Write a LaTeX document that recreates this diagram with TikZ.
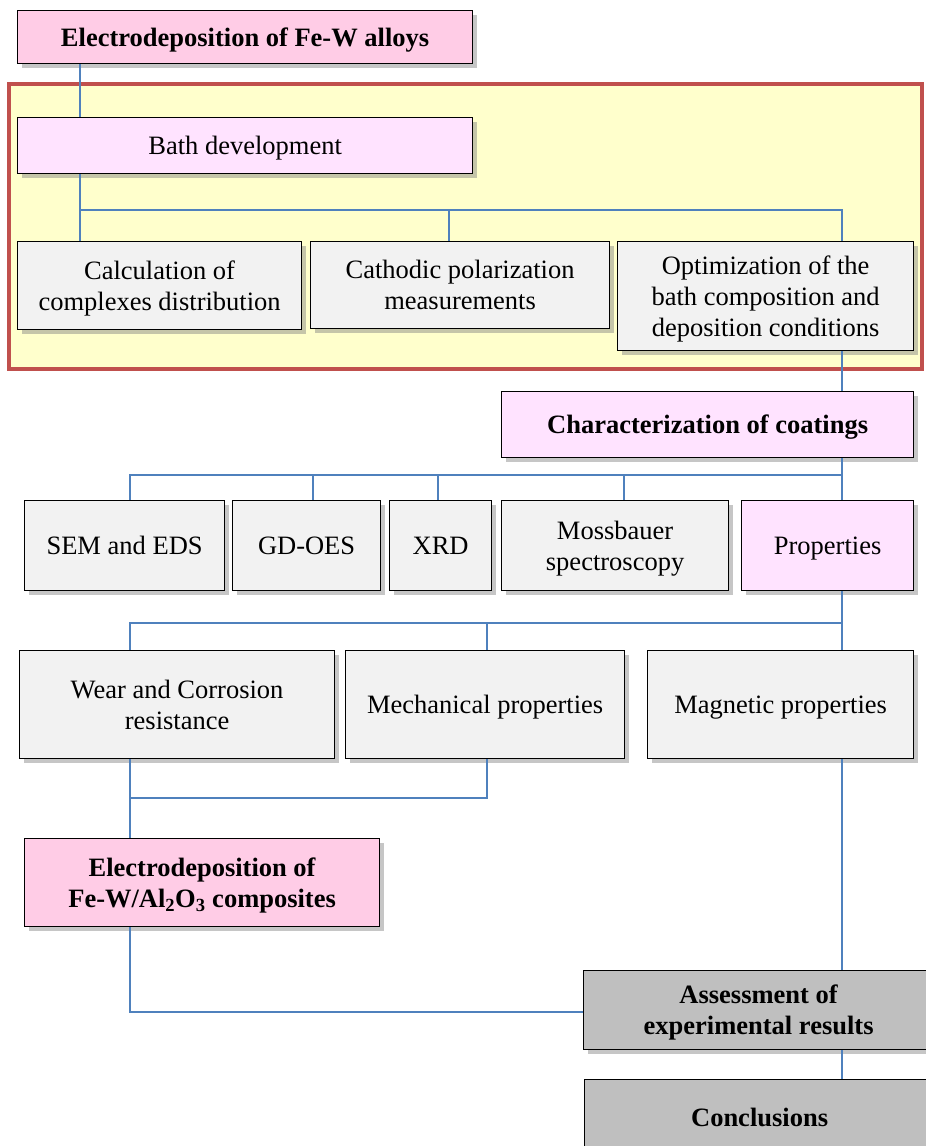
\documentclass[tikz,border=0pt]{standalone}
\usepackage{fontspec}
\setmainfont{Liberation Serif}
\usetikzlibrary{shadows}
\definecolor{pinkfill}{HTML}{FFCCE6}
\definecolor{lilacfill}{HTML}{FFE3FF}
\definecolor{greyfill}{HTML}{F2F2F2}
\definecolor{darkfill}{HTML}{BFBFBF}
\definecolor{framefill}{HTML}{FFFFCC}
\definecolor{framered}{HTML}{C0504D}
\definecolor{linkblue}{HTML}{4F81BD}
\tikzset{
  box/.style={draw=black,line width=1.2pt,align=center,anchor=north west,inner sep=2pt,
    text depth=0pt,font=\fontsize{26.5}{31}\selectfont,
    drop shadow={shadow xshift=4pt,shadow yshift=-4pt,opacity=0.45}},
  pinkbox/.style={box,fill=pinkfill,font=\fontsize{26.5}{31}\selectfont\bfseries},
  lilacbox/.style={box,fill=lilacfill},
  greybox/.style={box,fill=greyfill},
  darkbox/.style={box,fill=darkfill,font=\fontsize{26.5}{31}\selectfont\bfseries},
  conn/.style={draw=linkblue,line width=2pt}
}
\begin{document}
\begin{tikzpicture}[x=1pt,y=-1pt]
  \useasboundingbox (0,0) rectangle (926,1146);
  % yellow frame round the bath stage
  \draw[fill=framefill,draw=framered,line width=4.5pt] (9,84) rectangle (922,369);
  % junction points of the connectors
  \coordinate (j1) at (80,210); \coordinate (j2) at (449,210); \coordinate (j3) at (842,210);
  \coordinate (k1) at (130,475); \coordinate (k2) at (313,475); \coordinate (k3) at (438,475);
  \coordinate (k4) at (624,475); \coordinate (k5) at (842,475);
  \coordinate (m1) at (130,623); \coordinate (m2) at (487,623); \coordinate (m3) at (842,623);
  \coordinate (n1) at (487,798);

  \node[pinkbox,minimum width=455,minimum height=53] (title) at (17,10) {Electrodeposition of Fe-W alloys};
  \node[lilacbox,minimum width=455,minimum height=56] (bath) at (17,117) {Bath development};
  \node[greybox,minimum width=284,minimum height=88] (calc) at (17,241) {Calculation of\\complexes distribution};
  \node[greybox,minimum width=299,minimum height=87] (cath) at (310,241) {Cathodic polarization\\measurements};
  \node[greybox,minimum width=296,minimum height=109] (optim) at (617,241) {Optimization of the\\bath composition and\\deposition conditions};
  \node[lilacbox,minimum width=412,minimum height=66,font=\fontsize{26.5}{31}\selectfont\bfseries] (charac) at (501,391) {Characterization of coatings};
  \node[greybox,minimum width=200,minimum height=90] (sem) at (24,500) {SEM and EDS};
  \node[greybox,minimum width=148,minimum height=90] (gdoes) at (232,500) {GD-OES};
  \node[greybox,minimum width=102,minimum height=90] (xrd) at (389,500) {XRD};
  \node[greybox,minimum width=227,minimum height=90] (moss) at (501,500) {Mossbauer\\spectroscopy};
  \node[lilacbox,minimum width=172,minimum height=90] (props) at (741,500) {Properties};
  \node[greybox,minimum width=315,minimum height=108] (wear) at (19,650) {Wear and Corrosion\\resistance};
  \node[greybox,minimum width=279,minimum height=108] (mech) at (345,650) {Mechanical properties};
  \node[greybox,minimum width=266,minimum height=108] (magn) at (647,650) {Magnetic properties};
  \node[pinkbox,minimum width=355,minimum height=88] (compo) at (24,838) {Electrodeposition of\\Fe-W/Al\textsubscript{2}O\textsubscript{3} composites};
  \node[darkbox,minimum width=350,minimum height=79] (assess) at (583,970) {Assessment of\\experimental results};
  \node[darkbox,minimum width=350,minimum height=76] (concl) at (584,1079) {Conclusions};

  % connectors
  \draw[conn] (title.south -| j1) -- (bath.north -| j1);
  \draw[conn] (bath.south -| j1) -- (j1) -- (j3) -- (optim.north -| j3);
  \draw[conn] (j1) -- (calc.north -| j1);
  \draw[conn] (j2) -- (cath.north -| j2);
  \draw[conn] (optim.south -| j3) -- (charac.north -| j3);
  \draw[conn] (charac.south -| k5) -- (k5) -- (k1) -- (sem.north -| k1);
  \draw[conn] (k2) -- (gdoes.north -| k2);
  \draw[conn] (k3) -- (xrd.north -| k3);
  \draw[conn] (k4) -- (moss.north -| k4);
  \draw[conn] (k5) -- (props.north -| k5);
  \draw[conn] (props.south -| m3) -- (m3) -- (m1) -- (wear.north -| m1);
  \draw[conn] (m2) -- (mech.north -| m2);
  \draw[conn] (m3) -- (magn.north -| m3);
  \draw[conn] (wear.south -| m1) -- (compo.north -| m1);
  \draw[conn] (mech.south -| n1) -- (n1) -- (n1 -| m1);
  \draw[conn] (compo.south -| m1) |- ([yshift=-2pt]assess.west);
  \draw[conn] (magn.south -| m3) -- (assess.north -| m3);
  \draw[conn] (assess.south -| m3) -- (concl.north -| m3);
\end{tikzpicture}
\end{document}
